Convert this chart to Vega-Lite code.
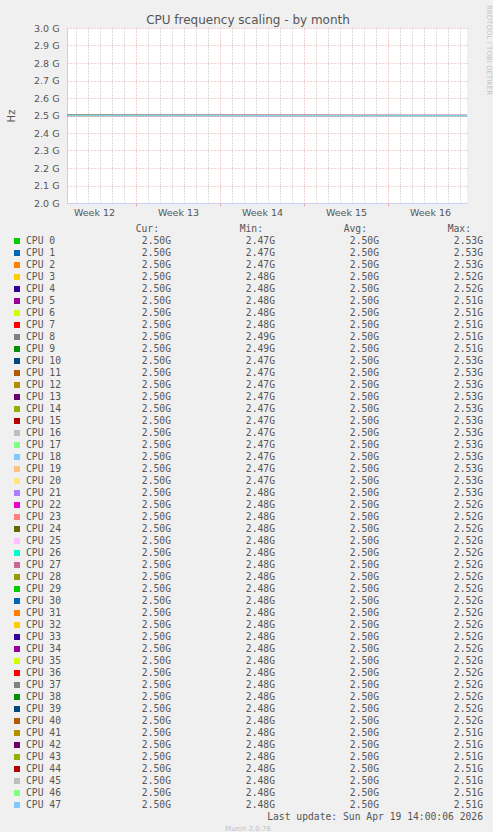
{
  "$schema": "https://vega.github.io/schema/vega-lite/v6.json",
  "background": "#f0f0f0",
  "padding": {"left": 6, "top": 5, "right": 0, "bottom": 0},
  "spacing": 7,
  "title": {
    "text": "RRDTOOL / TOBI OETIKER",
    "orient": "right",
    "anchor": "start",
    "angle": 90,
    "baseline": "bottom",
    "offset": -4,
    "dx": -9,
    "font": "DejaVu Sans",
    "fontSize": 7,
    "fontWeight": "normal",
    "color": "#c4c4c4"
  },
  "config": {
    "font": "DejaVu Sans",
    "view": {"stroke": null},
    "axis": {"labelFont": "DejaVu Sans", "labelFontSize": 9.5, "labelColor": "#555555", "titleFont": "DejaVu Sans"}
  },
  "datasets": {
    "lines": [
      {"cpu": "CPU 0", "t": "2026-03-17T06:00:00Z", "hz": 2.501e9}, {"cpu": "CPU 0", "t": "2026-04-02T22:00:00Z", "hz": 2.5e9}, {"cpu": "CPU 0", "t": "2026-04-19T14:00:00Z", "hz": 2.5e9},
      {"cpu": "CPU 1", "t": "2026-03-17T06:00:00Z", "hz": 2.5e9}, {"cpu": "CPU 1", "t": "2026-04-02T22:00:00Z", "hz": 2.501e9}, {"cpu": "CPU 1", "t": "2026-04-19T14:00:00Z", "hz": 2.5e9},
      {"cpu": "CPU 2", "t": "2026-03-17T06:00:00Z", "hz": 2.5e9}, {"cpu": "CPU 2", "t": "2026-04-02T22:00:00Z", "hz": 2.5e9}, {"cpu": "CPU 2", "t": "2026-04-19T14:00:00Z", "hz": 2.5e9},
      {"cpu": "CPU 3", "t": "2026-03-17T06:00:00Z", "hz": 2.499e9}, {"cpu": "CPU 3", "t": "2026-04-02T22:00:00Z", "hz": 2.5e9}, {"cpu": "CPU 3", "t": "2026-04-19T14:00:00Z", "hz": 2.5e9},
      {"cpu": "CPU 4", "t": "2026-03-17T06:00:00Z", "hz": 2.5e9}, {"cpu": "CPU 4", "t": "2026-04-02T22:00:00Z", "hz": 2.5e9}, {"cpu": "CPU 4", "t": "2026-04-19T14:00:00Z", "hz": 2.5e9},
      {"cpu": "CPU 5", "t": "2026-03-17T06:00:00Z", "hz": 2.5e9}, {"cpu": "CPU 5", "t": "2026-04-02T22:00:00Z", "hz": 2.499e9}, {"cpu": "CPU 5", "t": "2026-04-19T14:00:00Z", "hz": 2.5e9},
      {"cpu": "CPU 6", "t": "2026-03-17T06:00:00Z", "hz": 2.5e9}, {"cpu": "CPU 6", "t": "2026-04-02T22:00:00Z", "hz": 2.5e9}, {"cpu": "CPU 6", "t": "2026-04-19T14:00:00Z", "hz": 2.5e9},
      {"cpu": "CPU 7", "t": "2026-03-17T06:00:00Z", "hz": 2.5e9}, {"cpu": "CPU 7", "t": "2026-04-02T22:00:00Z", "hz": 2.5e9}, {"cpu": "CPU 7", "t": "2026-04-19T14:00:00Z", "hz": 2.501e9},
      {"cpu": "CPU 8", "t": "2026-03-17T06:00:00Z", "hz": 2.5e9}, {"cpu": "CPU 8", "t": "2026-04-02T22:00:00Z", "hz": 2.5e9}, {"cpu": "CPU 8", "t": "2026-04-19T14:00:00Z", "hz": 2.5e9},
      {"cpu": "CPU 9", "t": "2026-03-17T06:00:00Z", "hz": 2.5e9}, {"cpu": "CPU 9", "t": "2026-04-02T22:00:00Z", "hz": 2.5e9}, {"cpu": "CPU 9", "t": "2026-04-19T14:00:00Z", "hz": 2.5e9},
      {"cpu": "CPU 10", "t": "2026-03-17T06:00:00Z", "hz": 2.501e9}, {"cpu": "CPU 10", "t": "2026-04-02T22:00:00Z", "hz": 2.5e9}, {"cpu": "CPU 10", "t": "2026-04-19T14:00:00Z", "hz": 2.5e9},
      {"cpu": "CPU 11", "t": "2026-03-17T06:00:00Z", "hz": 2.5e9}, {"cpu": "CPU 11", "t": "2026-04-02T22:00:00Z", "hz": 2.5e9}, {"cpu": "CPU 11", "t": "2026-04-19T14:00:00Z", "hz": 2.5e9},
      {"cpu": "CPU 12", "t": "2026-03-17T06:00:00Z", "hz": 2.5e9}, {"cpu": "CPU 12", "t": "2026-04-02T22:00:00Z", "hz": 2.501e9}, {"cpu": "CPU 12", "t": "2026-04-19T14:00:00Z", "hz": 2.5e9},
      {"cpu": "CPU 13", "t": "2026-03-17T06:00:00Z", "hz": 2.5e9}, {"cpu": "CPU 13", "t": "2026-04-02T22:00:00Z", "hz": 2.5e9}, {"cpu": "CPU 13", "t": "2026-04-19T14:00:00Z", "hz": 2.5e9},
      {"cpu": "CPU 14", "t": "2026-03-17T06:00:00Z", "hz": 2.5e9}, {"cpu": "CPU 14", "t": "2026-04-02T22:00:00Z", "hz": 2.5e9}, {"cpu": "CPU 14", "t": "2026-04-19T14:00:00Z", "hz": 2.499e9},
      {"cpu": "CPU 15", "t": "2026-03-17T06:00:00Z", "hz": 2.5e9}, {"cpu": "CPU 15", "t": "2026-04-02T22:00:00Z", "hz": 2.5e9}, {"cpu": "CPU 15", "t": "2026-04-19T14:00:00Z", "hz": 2.5e9},
      {"cpu": "CPU 16", "t": "2026-03-17T06:00:00Z", "hz": 2.5e9}, {"cpu": "CPU 16", "t": "2026-04-02T22:00:00Z", "hz": 2.5e9}, {"cpu": "CPU 16", "t": "2026-04-19T14:00:00Z", "hz": 2.5e9},
      {"cpu": "CPU 17", "t": "2026-03-17T06:00:00Z", "hz": 2.499e9}, {"cpu": "CPU 17", "t": "2026-04-02T22:00:00Z", "hz": 2.5e9}, {"cpu": "CPU 17", "t": "2026-04-19T14:00:00Z", "hz": 2.5e9},
      {"cpu": "CPU 18", "t": "2026-03-17T06:00:00Z", "hz": 2.5e9}, {"cpu": "CPU 18", "t": "2026-04-02T22:00:00Z", "hz": 2.5e9}, {"cpu": "CPU 18", "t": "2026-04-19T14:00:00Z", "hz": 2.5e9},
      {"cpu": "CPU 19", "t": "2026-03-17T06:00:00Z", "hz": 2.5e9}, {"cpu": "CPU 19", "t": "2026-04-02T22:00:00Z", "hz": 2.5e9}, {"cpu": "CPU 19", "t": "2026-04-19T14:00:00Z", "hz": 2.5e9},
      {"cpu": "CPU 20", "t": "2026-03-17T06:00:00Z", "hz": 2.5e9}, {"cpu": "CPU 20", "t": "2026-04-02T22:00:00Z", "hz": 2.5e9}, {"cpu": "CPU 20", "t": "2026-04-19T14:00:00Z", "hz": 2.5e9},
      {"cpu": "CPU 21", "t": "2026-03-17T06:00:00Z", "hz": 2.5e9}, {"cpu": "CPU 21", "t": "2026-04-02T22:00:00Z", "hz": 2.501e9}, {"cpu": "CPU 21", "t": "2026-04-19T14:00:00Z", "hz": 2.5e9},
      {"cpu": "CPU 22", "t": "2026-03-17T06:00:00Z", "hz": 2.5e9}, {"cpu": "CPU 22", "t": "2026-04-02T22:00:00Z", "hz": 2.5e9}, {"cpu": "CPU 22", "t": "2026-04-19T14:00:00Z", "hz": 2.5e9},
      {"cpu": "CPU 23", "t": "2026-03-17T06:00:00Z", "hz": 2.5e9}, {"cpu": "CPU 23", "t": "2026-04-02T22:00:00Z", "hz": 2.5e9}, {"cpu": "CPU 23", "t": "2026-04-19T14:00:00Z", "hz": 2.5e9},
      {"cpu": "CPU 24", "t": "2026-03-17T06:00:00Z", "hz": 2.501e9}, {"cpu": "CPU 24", "t": "2026-04-02T22:00:00Z", "hz": 2.5e9}, {"cpu": "CPU 24", "t": "2026-04-19T14:00:00Z", "hz": 2.5e9},
      {"cpu": "CPU 25", "t": "2026-03-17T06:00:00Z", "hz": 2.5e9}, {"cpu": "CPU 25", "t": "2026-04-02T22:00:00Z", "hz": 2.5e9}, {"cpu": "CPU 25", "t": "2026-04-19T14:00:00Z", "hz": 2.5e9},
      {"cpu": "CPU 26", "t": "2026-03-17T06:00:00Z", "hz": 2.5e9}, {"cpu": "CPU 26", "t": "2026-04-02T22:00:00Z", "hz": 2.5e9}, {"cpu": "CPU 26", "t": "2026-04-19T14:00:00Z", "hz": 2.5e9},
      {"cpu": "CPU 27", "t": "2026-03-17T06:00:00Z", "hz": 2.5e9}, {"cpu": "CPU 27", "t": "2026-04-02T22:00:00Z", "hz": 2.499e9}, {"cpu": "CPU 27", "t": "2026-04-19T14:00:00Z", "hz": 2.5e9},
      {"cpu": "CPU 28", "t": "2026-03-17T06:00:00Z", "hz": 2.5e9}, {"cpu": "CPU 28", "t": "2026-04-02T22:00:00Z", "hz": 2.5e9}, {"cpu": "CPU 28", "t": "2026-04-19T14:00:00Z", "hz": 2.5e9},
      {"cpu": "CPU 29", "t": "2026-03-17T06:00:00Z", "hz": 2.5e9}, {"cpu": "CPU 29", "t": "2026-04-02T22:00:00Z", "hz": 2.5e9}, {"cpu": "CPU 29", "t": "2026-04-19T14:00:00Z", "hz": 2.5e9},
      {"cpu": "CPU 30", "t": "2026-03-17T06:00:00Z", "hz": 2.5e9}, {"cpu": "CPU 30", "t": "2026-04-02T22:00:00Z", "hz": 2.5e9}, {"cpu": "CPU 30", "t": "2026-04-19T14:00:00Z", "hz": 2.501e9},
      {"cpu": "CPU 31", "t": "2026-03-17T06:00:00Z", "hz": 2.5e9}, {"cpu": "CPU 31", "t": "2026-04-02T22:00:00Z", "hz": 2.5e9}, {"cpu": "CPU 31", "t": "2026-04-19T14:00:00Z", "hz": 2.5e9},
      {"cpu": "CPU 32", "t": "2026-03-17T06:00:00Z", "hz": 2.5e9}, {"cpu": "CPU 32", "t": "2026-04-02T22:00:00Z", "hz": 2.5e9}, {"cpu": "CPU 32", "t": "2026-04-19T14:00:00Z", "hz": 2.5e9},
      {"cpu": "CPU 33", "t": "2026-03-17T06:00:00Z", "hz": 2.5e9}, {"cpu": "CPU 33", "t": "2026-04-02T22:00:00Z", "hz": 2.5e9}, {"cpu": "CPU 33", "t": "2026-04-19T14:00:00Z", "hz": 2.5e9},
      {"cpu": "CPU 34", "t": "2026-03-17T06:00:00Z", "hz": 2.499e9}, {"cpu": "CPU 34", "t": "2026-04-02T22:00:00Z", "hz": 2.5e9}, {"cpu": "CPU 34", "t": "2026-04-19T14:00:00Z", "hz": 2.5e9},
      {"cpu": "CPU 35", "t": "2026-03-17T06:00:00Z", "hz": 2.5e9}, {"cpu": "CPU 35", "t": "2026-04-02T22:00:00Z", "hz": 2.5e9}, {"cpu": "CPU 35", "t": "2026-04-19T14:00:00Z", "hz": 2.5e9},
      {"cpu": "CPU 36", "t": "2026-03-17T06:00:00Z", "hz": 2.5e9}, {"cpu": "CPU 36", "t": "2026-04-02T22:00:00Z", "hz": 2.501e9}, {"cpu": "CPU 36", "t": "2026-04-19T14:00:00Z", "hz": 2.5e9},
      {"cpu": "CPU 37", "t": "2026-03-17T06:00:00Z", "hz": 2.5e9}, {"cpu": "CPU 37", "t": "2026-04-02T22:00:00Z", "hz": 2.5e9}, {"cpu": "CPU 37", "t": "2026-04-19T14:00:00Z", "hz": 2.5e9},
      {"cpu": "CPU 38", "t": "2026-03-17T06:00:00Z", "hz": 2.5e9}, {"cpu": "CPU 38", "t": "2026-04-02T22:00:00Z", "hz": 2.5e9}, {"cpu": "CPU 38", "t": "2026-04-19T14:00:00Z", "hz": 2.5e9},
      {"cpu": "CPU 39", "t": "2026-03-17T06:00:00Z", "hz": 2.5e9}, {"cpu": "CPU 39", "t": "2026-04-02T22:00:00Z", "hz": 2.5e9}, {"cpu": "CPU 39", "t": "2026-04-19T14:00:00Z", "hz": 2.499e9},
      {"cpu": "CPU 40", "t": "2026-03-17T06:00:00Z", "hz": 2.5e9}, {"cpu": "CPU 40", "t": "2026-04-02T22:00:00Z", "hz": 2.5e9}, {"cpu": "CPU 40", "t": "2026-04-19T14:00:00Z", "hz": 2.5e9},
      {"cpu": "CPU 41", "t": "2026-03-17T06:00:00Z", "hz": 2.5e9}, {"cpu": "CPU 41", "t": "2026-04-02T22:00:00Z", "hz": 2.5e9}, {"cpu": "CPU 41", "t": "2026-04-19T14:00:00Z", "hz": 2.5e9},
      {"cpu": "CPU 42", "t": "2026-03-17T06:00:00Z", "hz": 2.501e9}, {"cpu": "CPU 42", "t": "2026-04-02T22:00:00Z", "hz": 2.5e9}, {"cpu": "CPU 42", "t": "2026-04-19T14:00:00Z", "hz": 2.5e9},
      {"cpu": "CPU 43", "t": "2026-03-17T06:00:00Z", "hz": 2.5e9}, {"cpu": "CPU 43", "t": "2026-04-02T22:00:00Z", "hz": 2.5e9}, {"cpu": "CPU 43", "t": "2026-04-19T14:00:00Z", "hz": 2.5e9},
      {"cpu": "CPU 44", "t": "2026-03-17T06:00:00Z", "hz": 2.5e9}, {"cpu": "CPU 44", "t": "2026-04-02T22:00:00Z", "hz": 2.5e9}, {"cpu": "CPU 44", "t": "2026-04-19T14:00:00Z", "hz": 2.5e9},
      {"cpu": "CPU 45", "t": "2026-03-17T06:00:00Z", "hz": 2.5e9}, {"cpu": "CPU 45", "t": "2026-04-02T22:00:00Z", "hz": 2.499e9}, {"cpu": "CPU 45", "t": "2026-04-19T14:00:00Z", "hz": 2.5e9},
      {"cpu": "CPU 46", "t": "2026-03-17T06:00:00Z", "hz": 2.5e9}, {"cpu": "CPU 46", "t": "2026-04-02T22:00:00Z", "hz": 2.5e9}, {"cpu": "CPU 46", "t": "2026-04-19T14:00:00Z", "hz": 2.5e9},
      {"cpu": "CPU 47", "t": "2026-03-17T06:00:00Z", "hz": 2.499e9}, {"cpu": "CPU 47", "t": "2026-04-02T22:00:00Z", "hz": 2.499e9}, {"cpu": "CPU 47", "t": "2026-04-19T14:00:00Z", "hz": 2.499e9}
    ],
    "legend": [
      {"cpu": "CPU 0", "cur": 2.5e9, "min": 2.47e9, "avg": 2.5e9, "max": 2.53e9},
      {"cpu": "CPU 1", "cur": 2.5e9, "min": 2.47e9, "avg": 2.5e9, "max": 2.53e9},
      {"cpu": "CPU 2", "cur": 2.5e9, "min": 2.47e9, "avg": 2.5e9, "max": 2.53e9},
      {"cpu": "CPU 3", "cur": 2.5e9, "min": 2.48e9, "avg": 2.5e9, "max": 2.52e9},
      {"cpu": "CPU 4", "cur": 2.5e9, "min": 2.48e9, "avg": 2.5e9, "max": 2.52e9},
      {"cpu": "CPU 5", "cur": 2.5e9, "min": 2.48e9, "avg": 2.5e9, "max": 2.51e9},
      {"cpu": "CPU 6", "cur": 2.5e9, "min": 2.48e9, "avg": 2.5e9, "max": 2.51e9},
      {"cpu": "CPU 7", "cur": 2.5e9, "min": 2.48e9, "avg": 2.5e9, "max": 2.51e9},
      {"cpu": "CPU 8", "cur": 2.5e9, "min": 2.49e9, "avg": 2.5e9, "max": 2.51e9},
      {"cpu": "CPU 9", "cur": 2.5e9, "min": 2.49e9, "avg": 2.5e9, "max": 2.51e9},
      {"cpu": "CPU 10", "cur": 2.5e9, "min": 2.47e9, "avg": 2.5e9, "max": 2.53e9},
      {"cpu": "CPU 11", "cur": 2.5e9, "min": 2.47e9, "avg": 2.5e9, "max": 2.53e9},
      {"cpu": "CPU 12", "cur": 2.5e9, "min": 2.47e9, "avg": 2.5e9, "max": 2.53e9},
      {"cpu": "CPU 13", "cur": 2.5e9, "min": 2.47e9, "avg": 2.5e9, "max": 2.53e9},
      {"cpu": "CPU 14", "cur": 2.5e9, "min": 2.47e9, "avg": 2.5e9, "max": 2.53e9},
      {"cpu": "CPU 15", "cur": 2.5e9, "min": 2.47e9, "avg": 2.5e9, "max": 2.53e9},
      {"cpu": "CPU 16", "cur": 2.5e9, "min": 2.47e9, "avg": 2.5e9, "max": 2.53e9},
      {"cpu": "CPU 17", "cur": 2.5e9, "min": 2.47e9, "avg": 2.5e9, "max": 2.53e9},
      {"cpu": "CPU 18", "cur": 2.5e9, "min": 2.47e9, "avg": 2.5e9, "max": 2.53e9},
      {"cpu": "CPU 19", "cur": 2.5e9, "min": 2.47e9, "avg": 2.5e9, "max": 2.53e9},
      {"cpu": "CPU 20", "cur": 2.5e9, "min": 2.47e9, "avg": 2.5e9, "max": 2.53e9},
      {"cpu": "CPU 21", "cur": 2.5e9, "min": 2.48e9, "avg": 2.5e9, "max": 2.53e9},
      {"cpu": "CPU 22", "cur": 2.5e9, "min": 2.48e9, "avg": 2.5e9, "max": 2.52e9},
      {"cpu": "CPU 23", "cur": 2.5e9, "min": 2.48e9, "avg": 2.5e9, "max": 2.52e9},
      {"cpu": "CPU 24", "cur": 2.5e9, "min": 2.48e9, "avg": 2.5e9, "max": 2.52e9},
      {"cpu": "CPU 25", "cur": 2.5e9, "min": 2.48e9, "avg": 2.5e9, "max": 2.52e9},
      {"cpu": "CPU 26", "cur": 2.5e9, "min": 2.48e9, "avg": 2.5e9, "max": 2.52e9},
      {"cpu": "CPU 27", "cur": 2.5e9, "min": 2.48e9, "avg": 2.5e9, "max": 2.52e9},
      {"cpu": "CPU 28", "cur": 2.5e9, "min": 2.48e9, "avg": 2.5e9, "max": 2.52e9},
      {"cpu": "CPU 29", "cur": 2.5e9, "min": 2.48e9, "avg": 2.5e9, "max": 2.52e9},
      {"cpu": "CPU 30", "cur": 2.5e9, "min": 2.48e9, "avg": 2.5e9, "max": 2.52e9},
      {"cpu": "CPU 31", "cur": 2.5e9, "min": 2.48e9, "avg": 2.5e9, "max": 2.52e9},
      {"cpu": "CPU 32", "cur": 2.5e9, "min": 2.48e9, "avg": 2.5e9, "max": 2.52e9},
      {"cpu": "CPU 33", "cur": 2.5e9, "min": 2.48e9, "avg": 2.5e9, "max": 2.52e9},
      {"cpu": "CPU 34", "cur": 2.5e9, "min": 2.48e9, "avg": 2.5e9, "max": 2.52e9},
      {"cpu": "CPU 35", "cur": 2.5e9, "min": 2.48e9, "avg": 2.5e9, "max": 2.52e9},
      {"cpu": "CPU 36", "cur": 2.5e9, "min": 2.48e9, "avg": 2.5e9, "max": 2.52e9},
      {"cpu": "CPU 37", "cur": 2.5e9, "min": 2.48e9, "avg": 2.5e9, "max": 2.52e9},
      {"cpu": "CPU 38", "cur": 2.5e9, "min": 2.48e9, "avg": 2.5e9, "max": 2.52e9},
      {"cpu": "CPU 39", "cur": 2.5e9, "min": 2.48e9, "avg": 2.5e9, "max": 2.52e9},
      {"cpu": "CPU 40", "cur": 2.5e9, "min": 2.48e9, "avg": 2.5e9, "max": 2.52e9},
      {"cpu": "CPU 41", "cur": 2.5e9, "min": 2.48e9, "avg": 2.5e9, "max": 2.51e9},
      {"cpu": "CPU 42", "cur": 2.5e9, "min": 2.48e9, "avg": 2.5e9, "max": 2.51e9},
      {"cpu": "CPU 43", "cur": 2.5e9, "min": 2.48e9, "avg": 2.5e9, "max": 2.51e9},
      {"cpu": "CPU 44", "cur": 2.5e9, "min": 2.48e9, "avg": 2.5e9, "max": 2.51e9},
      {"cpu": "CPU 45", "cur": 2.5e9, "min": 2.48e9, "avg": 2.5e9, "max": 2.51e9},
      {"cpu": "CPU 46", "cur": 2.5e9, "min": 2.48e9, "avg": 2.5e9, "max": 2.51e9},
      {"cpu": "CPU 47", "cur": 2.5e9, "min": 2.48e9, "avg": 2.5e9, "max": 2.51e9}
    ],
    "headers": [{"col": "Cur:"}, {"col": "Min:"}, {"col": "Avg:"}, {"col": "Max:"}],
    "update": [{"label": "Last update: Sun Apr 19 14:00:06 2026"}],
    "footer": [{"label": "Munin 2.0.76"}]
  },
  "vconcat": [
    {
      "width": 400,
      "height": 175,
      "view": {"fill": "white", "stroke": null},
      "title": {
        "text": "CPU frequency scaling - by month",
        "font": "DejaVu Sans",
        "fontSize": 12,
        "fontWeight": "normal",
        "color": "#555555",
        "dx": -19,
        "offset": -4
      },
      "data": {"name": "lines"},
      "mark": {"type": "line", "strokeWidth": 1, "interpolate": "linear"},
      "encoding": {
        "x": {
          "field": "t",
          "type": "temporal",
          "scale": {
            "type": "utc",
            "domain": [
              {"year": 2026, "month": 3, "date": 17, "hours": 6, "utc": true},
              {"year": 2026, "month": 4, "date": 19, "hours": 14, "utc": true}
            ]
          },
          "axis": {
            "title": null,
            "tickCount": {"interval": "day", "step": 1},
            "grid": true,
            "gridDash": [1, 2],
            "gridColor": {"condition": {"test": "utcday(datum.value) === 1", "value": "#e6a3a3"}, "value": "#b8b8b8"},
            "tickSize": 3,
            "tickColor": {"condition": {"test": "utcday(datum.value) === 1", "value": "#e6a3a3"}, "value": "transparent"},
            "labelExpr": "utcday(datum.value) === 4 ? utcFormat(datum.value, 'Week %V') : ''",
            "labelOffset": 6,
            "labelOverlap": false,
            "labelFlush": false,
            "labelBound": false,
            "labelPadding": 1,
            "domainColor": "#c8cff8"
          }
        },
        "y": {
          "field": "hz",
          "type": "quantitative",
          "scale": {"domain": [2000000000, 3000000000], "nice": false, "zero": false},
          "axis": {
            "values": [2000000000, 2100000000, 2200000000, 2300000000, 2400000000, 2500000000, 2600000000, 2700000000, 2800000000, 2900000000, 3000000000],
            "labelExpr": "replace(format(datum.value, '.2s'), 'G', ' G')",
            "labelOverlap": false,
            "labelFlush": false,
            "labelBound": false,
            "grid": true,
            "gridDash": [1, 2],
            "gridColor": "#e6a3a3",
            "ticks": false,
            "labelPadding": 8,
            "domainColor": "#c8cff8",
            "title": "Hz",
            "titleFontSize": 10,
            "titleFontWeight": "normal",
            "titleColor": "#555555",
            "titlePadding": 17
          }
        },
        "color": {
          "field": "cpu",
          "type": "nominal",
          "legend": null,
          "scale": {
            "domain": ["CPU 0", "CPU 1", "CPU 2", "CPU 3", "CPU 4", "CPU 5", "CPU 6", "CPU 7", "CPU 8", "CPU 9", "CPU 10", "CPU 11", "CPU 12", "CPU 13", "CPU 14", "CPU 15", "CPU 16", "CPU 17", "CPU 18", "CPU 19", "CPU 20", "CPU 21", "CPU 22", "CPU 23", "CPU 24", "CPU 25", "CPU 26", "CPU 27", "CPU 28", "CPU 29", "CPU 30", "CPU 31", "CPU 32", "CPU 33", "CPU 34", "CPU 35", "CPU 36", "CPU 37", "CPU 38", "CPU 39", "CPU 40", "CPU 41", "CPU 42", "CPU 43", "CPU 44", "CPU 45", "CPU 46", "CPU 47"],
            "range": ["#00CC00", "#0066B3", "#FF8000", "#FFCC00", "#330099", "#990099", "#CCFF00", "#FF0000", "#808080", "#008F00", "#00487D", "#B35A00", "#B38F00", "#6B006B", "#8FB300", "#B30000", "#BEBEBE", "#80FF80", "#80C9FF", "#FFC080", "#FFE680", "#AA80FF", "#EE00CC", "#FF8080", "#666600", "#FFBFFF", "#00FFCC", "#CC6699", "#999900", "#00CC00", "#0066B3", "#FF8000", "#FFCC00", "#330099", "#990099", "#CCFF00", "#FF0000", "#808080", "#008F00", "#00487D", "#B35A00", "#B38F00", "#6B006B", "#8FB300", "#B30000", "#BEBEBE", "#80FF80", "#80C9FF"]
          }
        }
      }
    },
    {
      "width": 416,
      "height": 600,
      "view": {"fill": null, "stroke": null},
      "encoding": {
        "y": {
          "field": "cpu",
          "type": "nominal",
          "axis": null,
          "scale": {
            "type": "point",
            "padding": 0,
            "domain": ["hdr", "CPU 0", "CPU 1", "CPU 2", "CPU 3", "CPU 4", "CPU 5", "CPU 6", "CPU 7", "CPU 8", "CPU 9", "CPU 10", "CPU 11", "CPU 12", "CPU 13", "CPU 14", "CPU 15", "CPU 16", "CPU 17", "CPU 18", "CPU 19", "CPU 20", "CPU 21", "CPU 22", "CPU 23", "CPU 24", "CPU 25", "CPU 26", "CPU 27", "CPU 28", "CPU 29", "CPU 30", "CPU 31", "CPU 32", "CPU 33", "CPU 34", "CPU 35", "CPU 36", "CPU 37", "CPU 38", "CPU 39", "CPU 40", "CPU 41", "CPU 42", "CPU 43", "CPU 44", "CPU 45", "CPU 46", "CPU 47", "upd", "ftr"]
          }
        }
      },
      "layer": [
        {
          "data": {"name": "legend"},
          "mark": {"type": "point", "shape": "square", "filled": true, "size": 36, "opacity": 1, "xOffset": -50},
          "encoding": {
            "x": {"datum": "name", "type": "nominal", "axis": null, "scale": {"type": "point", "padding": 0, "domain": ["name", "Cur:", "Min:", "Avg:", "Max:"]}},
            "color": {"field": "cpu", "type": "nominal", "legend": null}
          }
        },
        {
          "data": {"name": "legend"},
          "mark": {"type": "text", "align": "left", "baseline": "middle", "dx": -41, "font": "DejaVu Sans Mono", "fontSize": 9.7, "color": "#555555"},
          "encoding": {
            "x": {"datum": "name", "type": "nominal"},
            "text": {"field": "cpu"}
          }
        },
        {
          "data": {"name": "legend"},
          "mark": {"type": "text", "align": "right", "baseline": "middle", "font": "DejaVu Sans Mono", "fontSize": 9.7, "color": "#555555"},
          "encoding": {
            "x": {"datum": "Cur:", "type": "nominal"},
            "text": {"field": "cur", "type": "quantitative", "format": ".3s"}
          }
        },
        {
          "data": {"name": "legend"},
          "mark": {"type": "text", "align": "right", "baseline": "middle", "font": "DejaVu Sans Mono", "fontSize": 9.7, "color": "#555555"},
          "encoding": {
            "x": {"datum": "Min:", "type": "nominal"},
            "text": {"field": "min", "type": "quantitative", "format": ".3s"}
          }
        },
        {
          "data": {"name": "legend"},
          "mark": {"type": "text", "align": "right", "baseline": "middle", "font": "DejaVu Sans Mono", "fontSize": 9.7, "color": "#555555"},
          "encoding": {
            "x": {"datum": "Avg:", "type": "nominal"},
            "text": {"field": "avg", "type": "quantitative", "format": ".3s"}
          }
        },
        {
          "data": {"name": "legend"},
          "mark": {"type": "text", "align": "right", "baseline": "middle", "font": "DejaVu Sans Mono", "fontSize": 9.7, "color": "#555555"},
          "encoding": {
            "x": {"datum": "Max:", "type": "nominal"},
            "text": {"field": "max", "type": "quantitative", "format": ".3s"}
          }
        },
        {
          "data": {"name": "headers"},
          "mark": {"type": "text", "align": "right", "baseline": "middle", "dx": -12, "font": "DejaVu Sans Mono", "fontSize": 9.7, "color": "#555555"},
          "encoding": {
            "x": {"field": "col", "type": "nominal"},
            "y": {"datum": "hdr", "type": "nominal"},
            "text": {"field": "col"}
          }
        },
        {
          "data": {"name": "update"},
          "mark": {"type": "text", "align": "right", "baseline": "middle", "font": "DejaVu Sans Mono", "fontSize": 9.7, "color": "#555555"},
          "encoding": {
            "x": {"datum": "Max:", "type": "nominal"},
            "y": {"datum": "upd", "type": "nominal"},
            "text": {"field": "label"}
          }
        },
        {
          "data": {"name": "footer"},
          "mark": {"type": "text", "align": "center", "baseline": "middle", "dx": -27, "font": "DejaVu Sans", "fontSize": 7, "color": "#c0c0c0"},
          "encoding": {
            "x": {"datum": "Min:", "type": "nominal"},
            "y": {"datum": "ftr", "type": "nominal"},
            "text": {"field": "label"}
          }
        }
      ]
    }
  ]
}
